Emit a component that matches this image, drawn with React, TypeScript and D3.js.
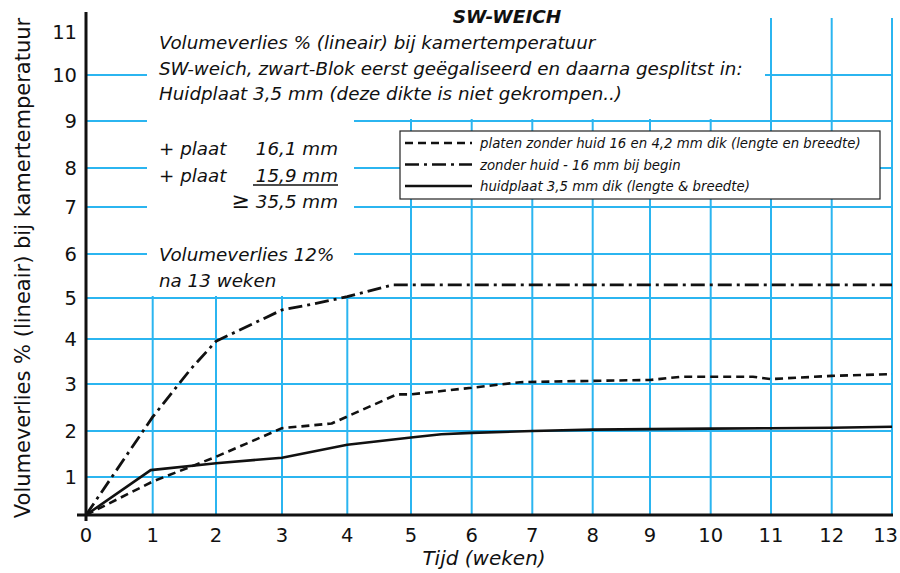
import React from 'react';
import * as d3 from 'd3';

// ---- data ----
const xTicks = [0, 1, 2, 3, 4, 5, 6, 7, 8, 9, 10, 11, 12, 13];
const yTicks = [0, 1, 2, 3, 4, 5, 6, 7, 8, 9, 10, 11];
const yTickLabels = [1, 2, 3, 4, 5, 6, 7, 8, 9, 10, 11];
const yGrid = [1, 2, 3, 4, 5, 6, 7, 8, 9, 10];
const xGrid = [1, 2, 3, 4, 5, 6, 7, 8, 9, 10, 11, 12, 13];

const dashedWeeks = [0, 1, 2, 3, 3.76, 4.78, 5, 6, 6.8, 8, 9, 9.5, 10.7, 11, 12, 13];
const dashedValues = [0, 0.88, 1.44, 2.06, 2.16, 2.78, 2.78, 2.92, 3.04, 3.07, 3.09, 3.16, 3.16, 3.11, 3.18, 3.22];

const dashDotWeeks = [0, 1, 1.6, 2, 3, 3.5, 4, 4.72, 13];
const dashDotValues = [0, 2.3, 3.33, 3.95, 4.71, 4.86, 5.03, 5.3, 5.3];

const solidWeeks = [0, 0.97, 2, 3, 4, 5, 5.5, 6, 7, 8, 9, 10, 11, 12, 13];
const solidValues = [0, 1.15, 1.3, 1.42, 1.7, 1.86, 1.93, 1.96, 2.0, 2.03, 2.04, 2.05, 2.06, 2.07, 2.09];

const legendLabels = [
  'platen zonder huid 16 en 4,2 mm dik (lengte en breedte)',
  'zonder huid - 16 mm bij begin',
  'huidplaat 3,5 mm dik (lengte & breedte)',
];

const title = 'SW-WEICH';
const headerLines = [
  'Volumeverlies % (lineair) bij kamertemperatuur',
  'SW-weich, zwart-Blok eerst geëgaliseerd en daarna gesplitst in:',
  'Huidplaat 3,5 mm (deze dikte is niet gekrompen..)',
];
const xTitle = 'Tijd (weken)';
const yTitle = 'Volumeverlies % (lineair) bij kamertemperatuur';

// hand-drawn (slightly irregular) axis: pixel position of each whole unit
const xRange = [86, 152.7, 216, 282, 347.3, 411, 471.7, 532.3, 592.7, 650, 710.7, 771, 831.7, 892];
const yRange = [515, 477, 431, 384, 339, 298, 254, 207, 168, 121, 75, 32];

const GRID = '#2bb5f0';
const FONT = '"DejaVu Sans", sans-serif';

export default function App() {
  const x = d3.scaleLinear().domain(xTicks).range(xRange);
  const y = d3.scaleLinear().domain(yTicks).range(yRange);
  const line = d3
    .line<[number, number]>()
    .x((d) => x(d[0]))
    .y((d) => y(d[1]));
  const mk = (w: number[], v: number[]) => w.map((wk, i) => [wk, v[i]] as [number, number]);

  const series = [
    { d: mk(dashedWeeks, dashedValues), dash: '8,5', w: 2.6 },
    { d: mk(dashDotWeeks, dashDotValues), dash: '14,5,3,5', w: 2.8 },
    { d: mk(solidWeeks, solidValues), dash: null, w: 2.6 },
  ];

  const gridTop = 18;
  const lx = 400, ly = 131, lw = 480, lh = 68;
  const lastTick = xTicks[xTicks.length - 1];

  return (
    <svg
      width={900}
      height={573}
      style={{ position: 'absolute', left: 0, top: 0, display: 'block', background: '#fff' }}
      fontFamily={FONT}
    >
      <rect x={0} y={0} width={900} height={573} fill="#fff" />
      {/* grid */}
      {yGrid.map((v) => (
        <line key={'h' + v} x1={x(0)} x2={x(13)} y1={y(v)} y2={y(v)} stroke={GRID} strokeWidth={2} />
      ))}
      {xGrid.map((v) => (
        <line key={'v' + v} x1={x(v)} x2={x(v)} y1={gridTop} y2={y(0)} stroke={GRID} strokeWidth={2} />
      ))}
      {/* white areas behind annotation text */}
      <rect x={147} y={0} width={618} height={119} fill="#fff" />
      <rect x={147} y={119} width={207} height={177} fill="#fff" />

      {/* title & header */}
      <text x={507} y={23} textAnchor="middle" fontSize={18.5} fontWeight="bold" fontStyle="italic" fill="#111">
        {title}
      </text>
      {headerLines.map((t, i) => (
        <text key={t} x={159} y={49 + i * 25.5} fontSize={18.3} fontStyle="italic" fill="#111">
          {t}
        </text>
      ))}

      {/* left annotations */}
      <g fontSize={18.3} fontStyle="italic" fill="#111">
        <text x={159} y={155}>+ plaat</text>
        <text x={338} y={155} textAnchor="end">16,1 mm</text>
        <text x={159} y={181.5}>+ plaat</text>
        <text x={338} y={181.5} textAnchor="end">15,9 mm</text>
        <line x1={253} x2={338} y1={185} y2={185} stroke="#111" strokeWidth={1.3} />
        <text x={338} y={208} textAnchor="end">
          <tspan fontStyle="normal" fontSize={22}>≥</tspan> 35,5 mm
        </text>
        <text x={159} y={260.7}>Volumeverlies 12%</text>
        <text x={159} y={286.7}>na 13 weken</text>
      </g>

      {/* legend */}
      <rect x={lx} y={ly} width={lw} height={lh} fill="#fff" stroke="#222" strokeWidth={1.2} />
      {series.map((s, i) => {
        const cy = ly + 12 + i * 21.5;
        return (
          <g key={'lg' + i}>
            <line
              x1={lx + 5}
              x2={lx + 72}
              y1={cy}
              y2={cy}
              stroke="#111"
              strokeWidth={2.4}
              strokeDasharray={s.dash ?? undefined}
            />
            <text x={lx + 80} y={cy + 5} fontSize={13.3} fontStyle="italic" fill="#111">
              {legendLabels[i]}
            </text>
          </g>
        );
      })}

      {/* series */}
      {series.map((s, i) => (
        <path
          key={'s' + i}
          d={line(s.d) ?? ''}
          fill="none"
          stroke="#111"
          strokeWidth={s.w}
          strokeDasharray={s.dash ?? undefined}
          strokeLinejoin="round"
        />
      ))}

      {/* axes */}
      <line x1={77} x2={893} y1={y(0)} y2={y(0)} stroke="#111" strokeWidth={3} />
      <line x1={x(0)} x2={x(0)} y1={12} y2={521} stroke="#111" strokeWidth={3} />

      {/* tick labels */}
      {xTicks.map((v) => (
        <text
          key={'xt' + v}
          x={v === lastTick ? 898 : x(v)}
          y={541.5}
          textAnchor={v === lastTick ? 'end' : 'middle'}
          fontSize={19.5}
          fill="#111"
        >
          {v}
        </text>
      ))}
      {yTickLabels.map((v) => (
        <text key={'yt' + v} x={77} y={y(v) + 7} textAnchor="end" fontSize={19.5} fill="#111">
          {v}
        </text>
      ))}

      {/* axis titles */}
      <text x={484} y={565} textAnchor="middle" fontSize={20} fontStyle="italic" fill="#111">
        {xTitle}
      </text>
      <text
        transform={`translate(30,268) rotate(-90)`}
        textAnchor="middle"
        fontSize={21}
        fill="#111"
      >
        {yTitle}
      </text>
    </svg>
  );
}
